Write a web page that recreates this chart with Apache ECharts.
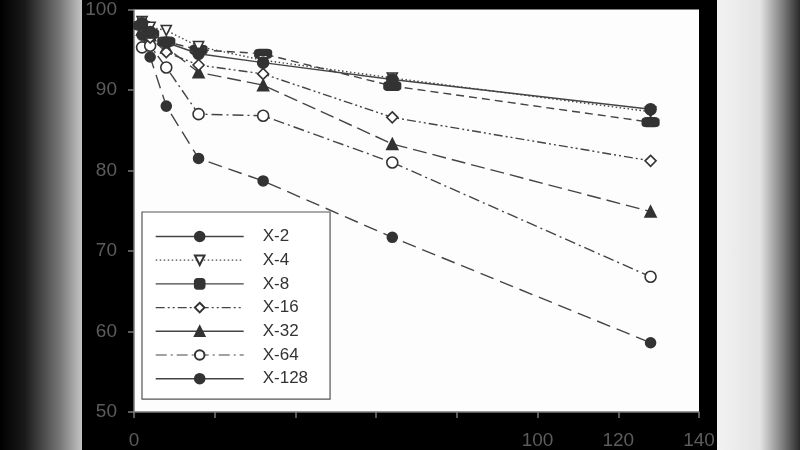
<!DOCTYPE html>
<html>
<head>
<meta charset="utf-8">
<script src="https://cdn.jsdelivr.net/npm/echarts@6/dist/echarts.min.js"></script>
<style>
html,body{margin:0;padding:0;}
body{
  width:800px;height:450px;overflow:hidden;
  background:linear-gradient(to right,#000 0px,#1a1a1a 25px,#777 60px,#c4c4c4 82px,#000 82px,#000 717px,#f2f2f2 717px,#e4e4e4 760px,#8a8a8a 780px,#2a2a2a 800px);
}
#chart{width:800px;height:450px;}
</style>
</head>
<body>
<div id="chart"></div>
<script>
// x positions (same for every series)
var xs = [2, 4, 8, 16, 32, 64, 128];
var names = ['X-2', 'X-4', 'X-8', 'X-16', 'X-32', 'X-64', 'X-128'];

var x2   = [98.3, 97.2, 95.9, 94.5, 93.4, 91.3, 87.6];
var x4   = [98.5, 97.8, 97.4, 95.4, 93.7, 91.5, 87.3];
var x8   = [98.0, 97.0, 96.0, 95.0, 94.5, 90.5, 86.0];
var x16  = [97.8, 96.5, 94.7, 93.1, 92.0, 86.6, 81.2];
var x32  = [97.5, 96.8, 95.3, 92.2, 90.6, 83.3, 74.9];
var x64  = [95.3, 95.5, 92.8, 87.0, 86.8, 81.0, 66.8];
var x128 = [96.8, 94.1, 88.0, 81.5, 78.7, 71.7, 58.6];

var xTickLabels = ['0', '100', '120', '140'];

function pairs(ys){
	var out = [];
	for(var i=0;i<xs.length;i++) out.push([xs[i], ys[i]]);
	return out;
}

// 线型和标记
var styles = [
	{d:x2,   dash:'solid',            sym:'circle',   size:11,     fill:'#333', rot:0},
	{d:x4,   dash:[1.5,2.5],          sym:'triangle', size:10,     fill:'#fff', rot:180},
	{d:x8,   dash:[8,5],              sym:'roundRect',size:[16,9], fill:'#333', rot:0},
	{d:x16,  dash:[9,3,2,3,2,3],      sym:'diamond',  size:11,     fill:'#fff', rot:0},
	{d:x32,  dash:[14,6],             sym:'triangle', size:11,     fill:'#333', rot:0},
	{d:x64,  dash:[11,4,2,4],         sym:'circle',   size:11,     fill:'#fff', rot:0},
	{d:x128, dash:[14,7],             sym:'circle',   size:10,     fill:'#333', rot:0}
];

var series = [];
var legendData = [];
for(var i=0;i<names.length;i++){
	var s = styles[i];
	series.push({
		name: names[i],
		type: 'line',
		data: pairs(s.d),
		symbol: s.sym,
		symbolSize: s.size,
		symbolRotate: s.rot,
		showAllSymbol: true,
		lineStyle: {color:'#444', width:1.4, type:s.dash},
		itemStyle: {color:s.fill, borderColor:'#333', borderWidth:1.6},
		z: 10 - i
	});
	var ls = (i==0 || i==2 || i==4 || i==6) ? {type:'solid', width:1.4, color:'#444'} : {type:s.dash, width:1.2, color:'#444'};
	legendData.push({name:names[i], lineStyle:ls});
}

var myChart = echarts.init(document.getElementById('chart'));
var option = {
	backgroundColor: 'transparent',
	animation: false,
	textStyle: {fontFamily:'Liberation Sans, Arial, sans-serif'},
	grid: {left:134, right:101, top:7, bottom:38, show:true, backgroundColor:'#fdfdfd', borderWidth:0},
	legend: {
		orient: 'vertical',
		left: 142, top: 212,
		data: legendData,
		itemWidth: 88, itemHeight: 12, itemGap: 6.7,
		padding: [16, 22, 12, 13],
		backgroundColor: '#fff',
		borderColor: '#555', borderWidth: 1.2,
		textStyle: {color:'#333', fontSize:17, padding:[0,0,0,14]}
	},
	xAxis: {
		type: 'value', min: 0, max: 140, interval: 20,
		axisLine: {lineStyle:{color:'#7a7a7a', width:1.5}},
		axisTick: {show:true, length:6, lineStyle:{color:'#7a7a7a', width:1.5}},
		splitLine: {show:false},
		axisLabel: {
			color:'#5c5c5c', fontSize:19, margin:19,
			formatter: function(v){ return xTickLabels.indexOf(String(v)) >= 0 ? String(v) : ''; }
		}
	},
	yAxis: {
		type: 'value', min: 50, max: 100, interval: 10,
		axisLine: {show:true, lineStyle:{color:'#7a7a7a', width:1.5}},
		axisTick: {show:true, length:6, lineStyle:{color:'#7a7a7a', width:1.5}},
		splitLine: {show:false},
		axisLabel: {color:'#5c5c5c', fontSize:19, margin:17}
	},
	series: series
};
myChart.setOption(option);
</script>
</body>
</html>
